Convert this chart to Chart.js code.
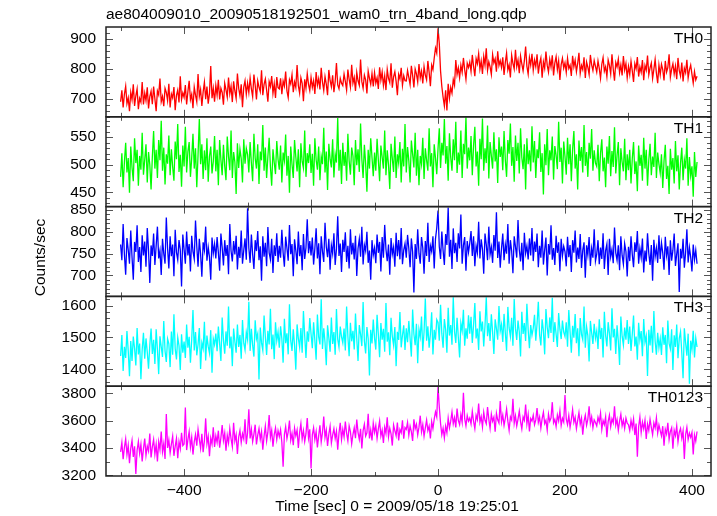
<!DOCTYPE html>
<html>
<head>
<meta charset="utf-8">
<script src="https://cdn.jsdelivr.net/npm/chart.js@4"></script>
<style>
  html, body { margin: 0; padding: 0; background: #fff; }
  #wrap { width: 717px; height: 516px; }
</style>
</head>
<body>
<div id="wrap"><canvas id="lc" width="717" height="516"></canvas></div>
<script>
// WAM light curves, 4 bands + sum, one panel each
const fileTitle = 'ae804009010_20090518192501_wam0_trn_4band_long.qdp';
const xTitle = 'Time [sec] 0 = 2009/05/18 19:25:01';
const yTitle = 'Counts/sec';
const bandNames = ['TH0', 'TH1', 'TH2', 'TH3', 'TH0123'];
const bandColors = ['#ff0000', '#00ff00', '#0000ff', '#00ffff', '#ff00ff'];

// time grid of the bins (sec from trigger)
const tStart = -500;
const tStep = 2;
const xTicks = [-400, -200, 0, 200, 400];

// counts/sec, one value per 2 s bin (50 s per row)
const th0 = [
  690,728,671,715,742,684,703,659,721,697,748,676,710,733,665,702,689,756,681,719,694,738,668,707,725,
  682,741,700,659,726,713,767,690,708,675,735,721,694,750,671,716,703,739,662,711,729,688,775,698,720,
  705,746,681,724,760,697,715,669,739,712,690,782,708,731,676,722,755,699,741,684,718,809,702,735,690,
  744,712,763,698,735,721,680,752,730,706,771,717,742,689,758,726,701,784,735,710,748,672,739,760,715,
  752,721,769,733,707,781,745,698,760,739,724,795,712,748,766,729,690,757,741,776,718,750,703,772,737,
  733,768,715,759,742,791,726,704,763,749,780,722,756,738,812,744,719,770,751,692,765,735,784,748,727,
  771,738,760,716,789,745,767,731,803,755,728,774,749,712,796,761,740,778,722,757,819,746,733,768,752,
  744,782,758,729,797,765,739,813,752,771,726,788,760,745,831,757,735,779,763,718,792,768,748,784,741,
  787,752,770,733,805,762,789,744,776,729,798,768,754,818,737,773,790,758,712,781,766,803,745,777,760,
  759,794,771,747,810,778,738,799,783,756,816,770,792,751,807,779,763,826,788,742,812,797,835,869,852,
  935,884,792,741,705,676,728,661,750,702,738,719,764,745,829,781,803,770,812,788,836,797,765,818,804,
  822,791,846,808,775,834,817,850,799,826,783,841,812,868,795,823,806,781,847,819,833,790,858,811,827,
  804,838,779,821,852,796,813,771,845,818,799,863,807,829,785,842,816,793,826,874,808,782,837,812,850,
  795,829,807,848,784,818,836,770,823,801,857,812,789,831,806,845,778,819,840,797,826,763,814,835,802,
  820,788,835,801,812,776,843,807,829,790,818,853,784,811,797,838,769,822,805,781,846,813,794,827,808,
  789,826,801,768,815,837,792,807,774,829,811,783,848,799,760,821,806,832,787,813,778,842,796,817,770,
  808,781,825,793,756,817,800,839,774,806,788,829,762,811,795,844,780,803,819,768,798,831,785,752,812,
  780,815,797,761,826,789,804,848,772,799,817,783,809,765,836,794,776,821,758,802,787,830,769,796,812,
  781,752,790,763,775
];
const th1 = [
  478,521,459,505,540,486,512,449,533,495,470,548,503,527,462,516,491,558,482,509,537,468,523,500,455,
  514,561,493,527,476,545,508,580,489,531,464,519,502,553,481,528,496,471,542,510,574,487,518,460,535,
  497,569,486,524,541,478,512,556,493,530,459,518,583,501,537,474,526,490,548,469,515,533,484,506,552,
  488,527,463,545,509,481,536,498,472,551,515,490,562,476,523,505,447,539,494,528,511,468,546,502,530,
  519,486,541,503,470,556,512,493,537,465,524,508,572,489,531,476,515,549,496,462,528,504,483,543,510,
  491,535,468,522,507,555,480,516,449,533,501,476,545,514,488,528,459,539,506,494,562,478,521,503,537,
  485,520,462,548,509,491,533,472,515,501,567,486,524,454,538,510,495,546,477,519,504,585,489,527,465,
  540,498,523,471,556,507,482,531,516,463,545,499,528,487,575,510,476,536,502,451,527,493,548,513,479,
  522,489,547,508,470,535,514,493,562,481,526,500,456,538,511,487,551,476,519,503,541,468,529,497,574,
  486,532,507,468,544,519,495,558,480,527,463,516,501,549,474,530,508,489,566,497,521,459,537,512,483,
  529,566,494,540,517,583,502,534,471,557,513,489,546,508,578,485,522,500,562,476,538,519,586,493,531,
  508,552,481,535,569,497,524,462,547,510,584,489,530,503,571,475,541,516,493,559,506,528,467,550,514,
  533,490,561,509,478,545,520,575,498,532,469,553,507,540,484,566,513,492,537,455,548,501,526,488,570,
  504,543,476,528,512,559,487,521,446,537,499,565,481,526,508,551,473,534,517,492,578,505,531,466,542,
  515,482,549,501,537,470,528,561,493,519,455,544,507,532,486,572,498,523,478,540,511,565,489,526,503,
  497,536,470,521,546,488,513,459,533,502,552,479,525,496,568,484,517,541,463,530,505,488,547,472,519,
  490,527,466,511,541,483,506,452,535,498,518,471,549,493,527,462,508,538,481,515,496,558,476,522,501,
  485,519,458,507,536,474,498,447,529,491,512,466,543,488,517,455,503,531,472,509,493,548,462,514,480,
  497,442,523,478,505
];
const th2 = [
  771,735,818,748,702,786,759,727,803,742,690,777,754,815,731,765,708,792,746,778,720,809,757,683,769,
  745,796,724,768,812,739,757,701,784,750,727,833,762,716,790,744,771,698,805,753,736,781,759,675,794,
  760,727,801,746,772,709,791,755,738,826,767,720,784,749,697,776,758,812,734,765,742,690,787,751,772,
  739,788,752,711,796,764,723,781,745,770,703,818,756,732,779,748,791,714,766,740,803,727,758,785,736,
  854,763,729,794,748,715,781,756,802,735,767,688,790,743,775,721,811,752,737,784,706,769,745,797,731,
  768,741,805,752,720,789,763,734,816,749,772,698,783,757,726,801,744,770,712,795,738,764,829,751,779,
  746,787,725,762,808,739,774,703,790,755,731,821,766,742,784,713,769,750,797,724,761,836,745,773,708,
  782,754,799,731,768,716,806,748,775,737,791,699,762,784,743,812,725,770,756,800,729,757,690,781,747,
  763,728,794,752,777,709,788,741,816,760,733,771,702,786,749,765,720,798,744,781,737,809,726,758,773,
  741,793,762,719,785,754,661,772,738,806,750,727,788,763,704,779,745,821,731,768,755,790,716,784,809,
  849,766,738,801,757,724,795,770,856,743,782,715,808,751,775,731,797,762,840,727,769,788,711,779,753,
  774,802,745,790,721,768,752,823,739,783,760,704,796,771,735,812,748,765,729,793,757,845,740,778,718,
  762,796,735,771,750,818,727,781,756,705,790,766,741,827,759,732,775,712,798,751,768,737,785,746,809,
  733,778,754,796,719,768,741,803,725,759,787,700,772,748,815,736,763,724,791,752,776,710,784,745,767,
  755,721,789,742,770,708,781,752,803,730,764,738,795,717,758,776,695,769,747,788,722,762,741,806,733,
  749,781,726,764,738,797,715,757,772,701,784,743,760,728,810,752,735,769,712,790,746,726,773,755,698,
  766,733,790,748,719,776,754,802,727,762,741,785,707,757,732,797,751,724,770,688,782,743,763,729,792,
  738,775,752,713,789,746,767,701,781,734,758,796,722,749,774,662,761,739,784,718,753,806,730,764,742,
  709,771,736,758,727
];
const th3 = [
  1442,1508,1395,1471,1436,1520,1458,1378,1489,1426,1503,1465,1412,1530,1447,1481,1369,1462,1515,1433,1497,1454,1402,1476,1528,
  1448,1493,1417,1526,1462,1385,1504,1471,1439,1552,1458,1423,1496,1480,1407,1519,1446,1573,1465,1431,1500,1474,1398,1510,1452,
  1487,1436,1541,1468,1502,1421,1493,1586,1459,1517,1444,1478,1530,1401,1483,1465,1549,1428,1506,1472,1451,1523,1389,1496,1478,
  1512,1457,1534,1480,1426,1563,1491,1449,1519,1474,1597,1466,1503,1410,1528,1487,1452,1541,1470,1508,1433,1555,1482,1461,1516,
  1493,1612,1458,1527,1475,1440,1554,1496,1512,1368,1531,1483,1460,1569,1502,1445,1521,1478,1590,1463,1509,1432,1548,1490,1517,
  1468,1535,1496,1421,1559,1482,1513,1447,1604,1490,1458,1526,1475,1399,1541,1497,1469,1530,1452,1583,1505,1436,1519,1487,1561,
  1511,1466,1548,1491,1430,1572,1502,1478,1620,1464,1529,1485,1413,1538,1499,1455,1563,1480,1517,1446,1589,1495,1470,1534,1502,
  1483,1528,1459,1597,1504,1441,1546,1488,1521,1462,1575,1497,1426,1539,1510,1473,1611,1489,1450,1533,1496,1381,1524,1481,1556,
  1498,1462,1571,1509,1438,1545,1493,1527,1455,1608,1487,1516,1444,1562,1503,1476,1533,1410,1518,1492,1580,1469,1507,1538,1461,
  1529,1485,1552,1497,1440,1588,1511,1476,1543,1419,1525,1502,1566,1458,1517,1622,1490,1535,1468,1511,1579,1447,1524,1493,1556,
  1547,1490,1603,1512,1468,1558,1525,1452,1593,1506,1539,1477,1626,1518,1483,1562,1500,1437,1545,1521,1587,1474,1529,1496,1570,
  1512,1565,1483,1539,1608,1497,1528,1461,1582,1519,1550,1472,1537,1626,1504,1545,1489,1573,1516,1448,1557,1528,1493,1599,1520,
  1541,1486,1574,1515,1458,1596,1530,1503,1562,1474,1621,1527,1492,1553,1518,1440,1581,1511,1545,1489,1606,1524,1466,1539,1507,
  1529,1571,1490,1543,1612,1508,1475,1557,1521,1447,1589,1532,1498,1563,1514,1625,1486,1548,1511,1470,1577,1526,1495,1553,1517,
  1503,1548,1471,1586,1519,1452,1537,1499,1574,1482,1529,1441,1561,1510,1493,1597,1468,1534,1506,1425,1552,1515,1480,1543,1498,
  1521,1464,1557,1495,1530,1437,1581,1506,1472,1548,1513,1459,1592,1500,1527,1448,1538,1489,1414,1566,1504,1476,1531,1493,1555,
  1480,1534,1458,1511,1569,1472,1503,1430,1546,1492,1520,1441,1558,1486,1505,1379,1524,1475,1537,1452,1583,1489,1446,1515,1468,
  1496,1445,1532,1477,1508,1419,1553,1481,1464,1526,1398,1507,1470,1541,1435,1497,1518,1452,1372,1529,1484,1443,1512,1355,1490,
  1462,1521,1437,1498,1470
];
const th0123 = [
  3372,3441,3318,3405,3467,3352,3420,3289,3398,3456,3335,3412,3210,3384,3448,3361,3427,3302,3395,3470,3346,3414,3378,3506,3331,
  3408,3462,3355,3427,3301,3446,3389,3521,3372,3434,3320,3650,3401,3458,3364,3429,3486,3343,3412,3470,3325,3447,3395,3512,3418,
  3430,3697,3385,3462,3521,3406,3478,3352,3445,3499,3417,3536,3463,3398,3504,3370,3452,3617,3431,3486,3340,3473,3429,3551,3408,
  3489,3441,3527,3402,3476,3568,3455,3510,3381,3493,3437,3542,3468,3410,3585,3452,3498,3356,3481,3529,3440,3505,3467,3611,3428,
  3512,3684,3470,3538,3447,3502,3571,3426,3495,3543,3463,3520,3388,3487,3560,3451,3516,3642,3478,3530,3410,3499,3548,3462,3527,
  3483,3534,3441,3263,3498,3556,3470,3519,3602,3457,3508,3421,3545,3489,3532,3401,3515,3579,3466,3527,3448,3505,3620,3474,3537,
  3250,3496,3548,3462,3520,3405,3489,3567,3445,3512,3630,3478,3531,3416,3502,3559,3437,3495,3541,3470,3524,3388,3509,3585,3463,
  3537,3482,3594,3508,3453,3562,3520,3431,3499,3548,3472,3608,3515,3463,3540,3396,3527,3574,3488,3512,3651,3470,3533,3456,3582,
  3514,3565,3471,3540,3598,3489,3531,3437,3552,3507,3626,3482,3545,3503,3418,3569,3528,3491,3587,3455,3536,3512,3603,3468,3550,
  3537,3588,3495,3561,3520,3452,3610,3541,3574,3496,3553,3637,3519,3572,3486,3548,3605,3527,3561,3470,3594,3542,3612,3665,3628,
  3852,3700,3580,3498,3545,3473,3560,3512,3620,3548,3597,3664,3578,3623,3551,3690,3602,3571,3645,3589,3805,3615,3562,3638,3597,
  3620,3577,3668,3596,3542,3640,3608,3725,3589,3631,3554,3661,3603,3578,3700,3612,3545,3648,3596,3626,3519,3655,3607,3583,3744,
  3591,3642,3566,3618,3685,3597,3530,3629,3605,3760,3581,3637,3562,3612,3670,3594,3541,3628,3603,3719,3577,3645,3522,3616,3598,
  3640,3571,3606,3693,3588,3627,3547,3615,3662,3579,3603,3530,3648,3596,3621,3736,3585,3610,3558,3641,3598,3672,3566,3617,3590,
  3788,3614,3572,3638,3551,3609,3682,3587,3625,3542,3603,3660,3574,3619,3498,3596,3641,3567,3612,3705,3581,3628,3549,3606,3587,
  3562,3626,3590,3655,3537,3602,3571,3628,3480,3593,3640,3556,3614,3585,3706,3568,3610,3529,3597,3648,3563,3605,3545,3619,3582,
  3571,3528,3602,3549,3612,3495,3580,3337,3556,3627,3514,3590,3541,3603,3466,3575,3530,3611,3552,3498,3584,3547,3621,3510,3569,
  3528,3489,3560,3417,3537,3502,3584,3463,3521,3548,3395,3530,3491,3562,3446,3515,3543,3472,3526,3320,3498,3551,3463,3509,3478,
  3514,3352,3495,3450,3521
];

// axis ranges and tick steps per panel (top to bottom)
const yMins = [640, 424, 652, 1347, 3195];
const yMaxs = [939, 587, 858, 1629, 3853];
const yMajor = [100, 50, 50, 100, 200];
const yMinor = [20, 10, 10, 20, 100];
const xMin = -523, xMax = 430;

const series = [th0, th1, th2, th3, th0123];

const fontFamily = "'Liberation Sans', Arial, sans-serif";
Chart.defaults.font.family = fontFamily;
Chart.defaults.font.size = 15.5;
Chart.defaults.color = '#000';

const minus = v => String(v).replace('-', '\u2212');

// frame, inward ticks, panel names and titles (qdp look)
const qdpFrame = {
  id: 'qdpFrame',
  afterDraw(chart) {
    const { ctx, chartArea: ca, scales } = chart;
    const xs = scales.x;
    ctx.save();
    bandNames.forEach((name, i) => {
      const ys = scales['y' + i];
      const top = ys.top, bot = ys.bottom;
      ctx.strokeStyle = '#555';
      ctx.lineWidth = 1;
      ctx.beginPath();
      const yStart = Math.ceil(ys.min / yMinor[i]) * yMinor[i];
      for (let v = yStart; v <= ys.max; v += yMinor[i]) {
        const len = v % yMajor[i] === 0 ? 7 : 4;
        const py = Math.round(ys.getPixelForValue(v)) + 0.5;
        ctx.moveTo(ca.left, py); ctx.lineTo(ca.left + len, py);
        ctx.moveTo(ca.right, py); ctx.lineTo(ca.right - len, py);
      }
      for (let v = Math.ceil(xs.min / 100) * 100; v <= xs.max; v += 100) {
        const len = v % 200 === 0 ? 7 : 4;
        const px = Math.round(xs.getPixelForValue(v)) + 0.5;
        ctx.moveTo(px, top); ctx.lineTo(px, top + len);
        ctx.moveTo(px, bot); ctx.lineTo(px, bot - len);
      }
      ctx.stroke();

      ctx.strokeStyle = '#222';
      ctx.lineWidth = 1.5;
      ctx.strokeRect(ca.left, top, ca.right - ca.left, bot - top);

      ctx.fillStyle = '#000';
      ctx.font = '15.5px ' + fontFamily;
      ctx.textAlign = 'right';
      ctx.textBaseline = 'alphabetic';
      ctx.fillText(name, ca.right - 8, top + 16);
    });

    ctx.font = '15.5px ' + fontFamily;
    ctx.textAlign = 'left';
    ctx.fillText(fileTitle, ca.left, 19);
    ctx.textAlign = 'center';
    ctx.fillText(xTitle, 397, 511);
    ctx.translate(45, (ca.top + ca.bottom) / 2 + 6);
    ctx.rotate(-Math.PI / 2);
    ctx.fillText(yTitle, 0, 0);
    ctx.restore();
  }
};

// labelled ticks only on round multiples of the major step
const majorTicks = step => scale => {
  const ticks = [];
  for (let v = Math.ceil(scale.min / step) * step; v <= scale.max; v += step) ticks.push({ value: v });
  scale.ticks = ticks;
};

const scales = {
  x: {
    type: 'linear', position: 'bottom', min: xMin, max: xMax,
    grid: { display: false, drawTicks: false }, border: { display: false },
    ticks: {
      autoSkip: false, maxRotation: 0, padding: 5,
      callback: v => minus(v)
    },
    afterBuildTicks: scale => { scale.ticks = xTicks.map(v => ({ value: v })); },
    afterFit: s => { s.height = 40; }
  }
};
// defined bottom-up so that TH0 ends on top of the stack
for (let i = bandNames.length - 1; i >= 0; i--) {
  scales['y' + i] = {
    type: 'linear', position: 'left', stack: 'panels', stackWeight: 1,
    min: yMins[i], max: yMaxs[i],
    grid: { display: false, drawTicks: false }, border: { display: false },
    ticks: { autoSkip: false, padding: 10, callback: v => String(v) },
    afterBuildTicks: majorTicks(yMajor[i]),
    afterFit: s => { s.width = 106; }
  };
}

new Chart(document.getElementById('lc'), {
  type: 'line',
  data: {
    datasets: series.map((vals, i) => ({
      label: bandNames[i],
      data: vals.map((v, k) => ({ x: tStart + k * tStep, y: v })),
      yAxisID: 'y' + i,
      borderColor: bandColors[i],
      borderWidth: 1.3,
      pointRadius: 0,
      tension: 0,
      fill: false
    }))
  },
  options: {
    responsive: false,
    animation: false,
    events: [],
    layout: { padding: { top: 27, right: 6, left: 0, bottom: 0 } },
    plugins: { legend: { display: false }, tooltip: { enabled: false } },
    scales: scales
  },
  plugins: [qdpFrame]
});
</script>
</body>
</html>
